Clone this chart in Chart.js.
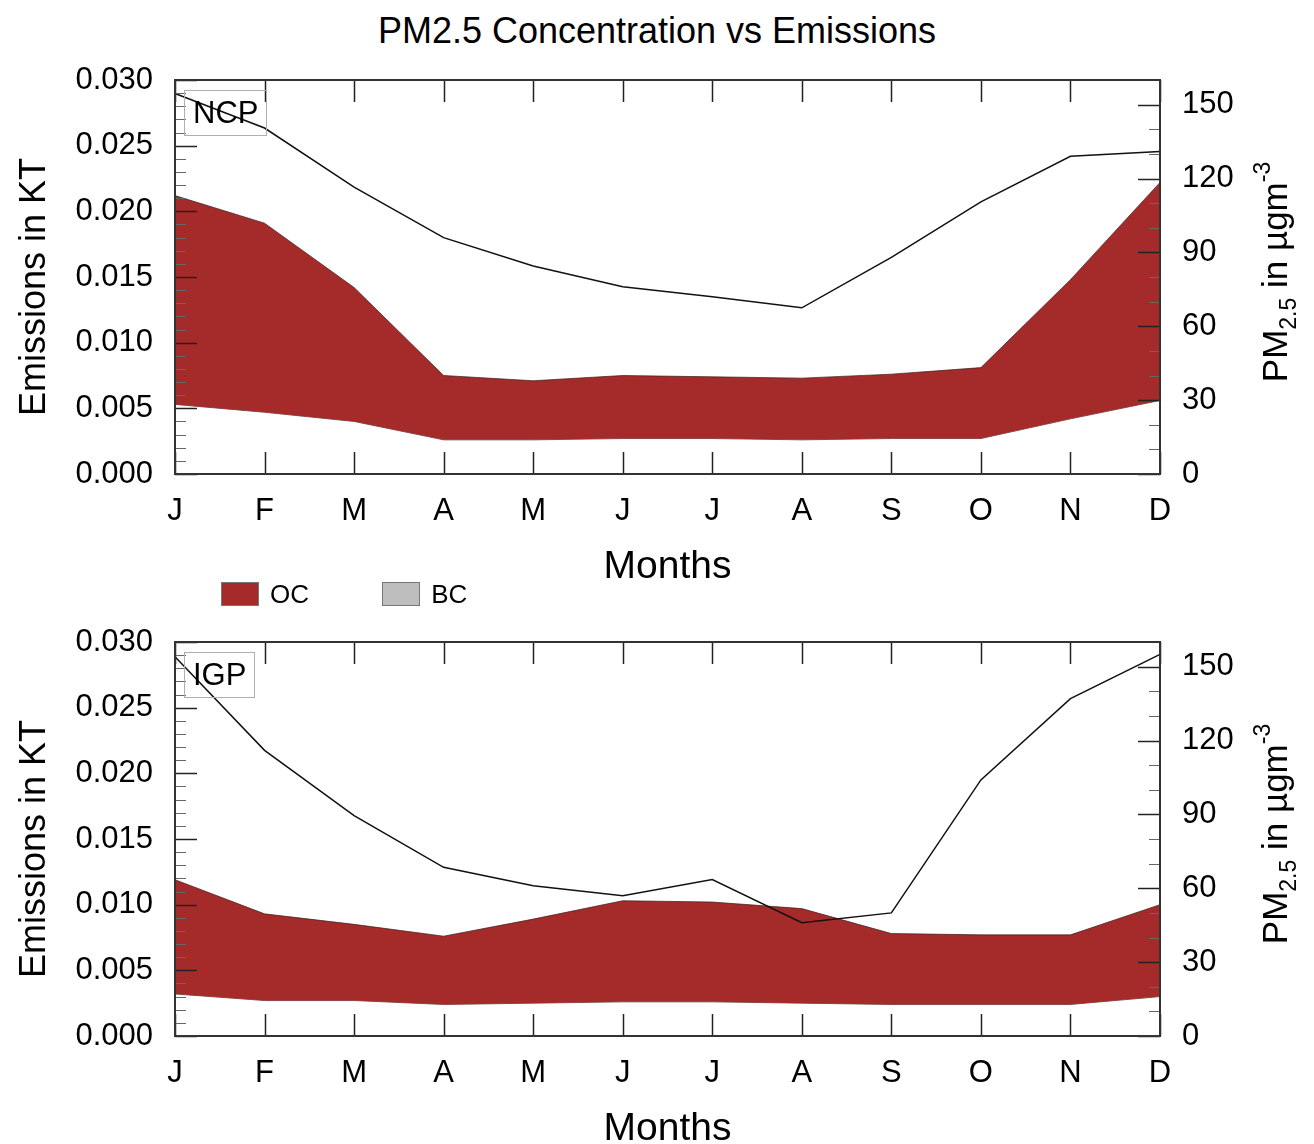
<!DOCTYPE html>
<html>
<head>
<meta charset="utf-8">
<script src="https://cdn.jsdelivr.net/npm/chart.js@4.4.0/dist/chart.umd.min.js"></script>
<style>
  html, body { margin: 0; padding: 0; background: #fff; overflow: hidden; }
  body { width: 1314px; height: 1144px; position: relative; font-family: "Liberation Sans", Arial, sans-serif; }
  #title { position: absolute; left: 0; top: 10px; width: 1314px; text-align: center; font-size: 36px; color: #000; }
  .wrap { position: absolute; left: 0; width: 1314px; height: 600px; }
  .region { position: absolute; border: 1.5px solid #b0b0b0; font-size: 31px; padding: 0 8px; line-height: 44px; color: #000; }
  #legend { position: absolute; left: 221px; top: 577px; font-size: 26px; z-index: 5; }
  #legend span.box { display: inline-block; width: 38px; height: 24px; vertical-align: middle; border: 1px solid #777; box-sizing: border-box; }
  #legend span.lab { display: inline-block; vertical-align: middle; margin-left: 11px; }
</style>
</head>
<body>
<div id="title">PM2.5 Concentration vs Emissions</div>
<div class="wrap" style="top:0px"><canvas id="ncpChart" width="1314" height="600"></canvas></div>
<div class="wrap" style="top:562px"><canvas id="igpChart" width="1314" height="600"></canvas></div>
<div class="region" style="left:184px; top:90px;">NCP</div>
<div class="region" style="left:184px; top:652px;">IGP</div>
<div id="legend">
  <span class="box" style="background:#a52a2a"></span><span class="lab">OC</span>
  <span class="box" style="background:#bebebe; margin-left:66px"></span><span class="lab">BC</span>
</div>
<script>
const months = ['J', 'F', 'M', 'A', 'M', 'J', 'J', 'A', 'S', 'O', 'N', 'D'];

// NCP (top panel)
const ocNCP = [0.0212, 0.0191, 0.0142, 0.0075, 0.0071, 0.0075, 0.0074, 0.0073, 0.0076, 0.0081, 0.0148, 0.0222];
const bcNCP = [0.0053, 0.0047, 0.0040, 0.0026, 0.0026, 0.0027, 0.0027, 0.0026, 0.0027, 0.0027, 0.0042, 0.0056];
const pmNCP = [154.5, 140.5, 116.5, 96, 84.5, 76, 72, 67.5, 88, 110.5, 129, 131];

// IGP (bottom panel)
const ocIGP = [0.0119, 0.0093, 0.0085, 0.0076, 0.0089, 0.0103, 0.0102, 0.0097, 0.0078, 0.0077, 0.0077, 0.0100];
const bcIGP = [0.0032, 0.0027, 0.0027, 0.0024, 0.0025, 0.0026, 0.0026, 0.0025, 0.0024, 0.0024, 0.0024, 0.0030];
const pmIGP = [154, 116, 89.5, 68.5, 61, 57, 63.5, 46, 50, 104, 137, 155];

const emisTicks = { min: 0, max: 0.03, major: 0.005, minor: 0.001 };
const pmTicks = { min: 0, max: 160, major: 30, minor: 10 };

const FONT = "'Liberation Sans', Arial, sans-serif";

// inward ticks, box and axis titles
const framePlugin = {
    id: 'frame',
    afterDatasetsDraw(chart) {
        const ctx = chart.ctx;
        const a = chart.chartArea;
        const xs = chart.scales.x, ys = chart.scales.y, ys2 = chart.scales.y2;
        ctx.save();
        ctx.strokeStyle = '#222';
        ctx.lineWidth = 1.5;
        // month ticks on top and bottom
        months.forEach((m, i) => {
            const px = Math.round(xs.getPixelForValue(i)) + 0.5;
            ctx.beginPath();
            ctx.moveTo(px, a.bottom); ctx.lineTo(px, a.bottom - 22);
            ctx.moveTo(px, a.top); ctx.lineTo(px, a.top + 22);
            ctx.stroke();
        });
        // left axis ticks
        for (let k = 0; k <= 30; k++) {
            const v = k * emisTicks.minor;
            const py = Math.round(ys.getPixelForValue(v)) + 0.5;
            const major = k % 5 === 0;
            ctx.lineWidth = major ? 1.5 : 1;
            ctx.strokeStyle = major ? '#222' : '#666';
            ctx.beginPath();
            ctx.moveTo(a.left, py); ctx.lineTo(a.left + (major ? 22 : 11), py);
            ctx.stroke();
        }
        // right axis ticks
        for (let v = pmTicks.min; v <= pmTicks.max; v += pmTicks.minor) {
            const py = Math.round(ys2.getPixelForValue(v)) + 0.5;
            const major = v % pmTicks.major === 0;
            ctx.lineWidth = major ? 1.5 : 1;
            ctx.strokeStyle = major ? '#222' : '#666';
            ctx.beginPath();
            ctx.moveTo(a.right, py); ctx.lineTo(a.right - (major ? 22 : 11), py);
            ctx.stroke();
        }
        // frame
        ctx.lineWidth = 2;
        ctx.strokeStyle = '#333';
        ctx.strokeRect(a.left, a.top, a.right - a.left, a.bottom - a.top);
        ctx.restore();
    },
    afterDraw(chart) {
        const ctx = chart.ctx;
        const a = chart.chartArea;
        const midY = (a.top + a.bottom) / 2;
        ctx.save();
        ctx.fillStyle = '#000';
        ctx.textBaseline = 'alphabetic';

        // left title
        ctx.save();
        ctx.translate(45, midY + 10);
        ctx.rotate(-Math.PI / 2);
        ctx.font = '36px ' + FONT;
        ctx.textAlign = 'center';
        ctx.fillText('Emissions in KT', 0, 0);
        ctx.restore();

        // right title with sub/superscript
        const parts = [
            { t: 'PM', size: 35, dy: 0 },
            { t: '2.5', size: 23, dy: 9 },
            { t: ' in \u00b5gm', size: 35, dy: 0 },
            { t: '-3', size: 23, dy: -17 }
        ];
        let total = 0;
        parts.forEach(p => { ctx.font = p.size + 'px ' + FONT; p.w = ctx.measureText(p.t).width; total += p.w; });
        ctx.translate(1287, midY - 5);
        ctx.rotate(-Math.PI / 2);
        let x = -total / 2;
        parts.forEach(p => {
            ctx.font = p.size + 'px ' + FONT;
            ctx.fillText(p.t, x, p.dy);
            x += p.w;
        });
        ctx.restore();
    }
};

function makeChart(id, oc, bc, pm) {
    const ctx = document.getElementById(id).getContext('2d');
    return new Chart(ctx, {
        type: 'line',
        data: {
            labels: months,
            datasets: [{
                label: 'BC',
                data: bc,
                yAxisID: 'y',
                order: 2,
                borderColor: 'rgba(60,30,30,0.7)',
                borderWidth: 1,
                pointRadius: 0,
                fill: false,
                tension: 0
            }, {
                label: 'OC',
                data: oc,
                yAxisID: 'y',
                order: 1,
                borderColor: 'rgba(60,30,30,0.7)',
                borderWidth: 1,
                backgroundColor: '#a52a2a',
                pointRadius: 0,
                fill: '-1',
                tension: 0
            }, {
                label: 'PM2.5',
                data: pm,
                yAxisID: 'y2',
                order: 0,
                borderColor: '#111',
                borderWidth: 1.5,
                pointRadius: 0,
                fill: false,
                tension: 0
            }]
        },
        options: {
            responsive: false,
            maintainAspectRatio: false,
            animation: false,
            layout: { padding: { top: 80, bottom: 11, left: 0, right: 0 } },
            plugins: {
                legend: { display: false },
                tooltip: { enabled: false }
            },
            scales: {
                x: {
                    type: 'category',
                    offset: false,
                    grid: { display: false, drawTicks: false },
                    border: { display: false },
                    ticks: { color: '#000', font: { family: FONT, size: 31 }, padding: 19, maxRotation: 0, autoSkip: false },
                    title: { display: true, text: 'Months', color: '#000', font: { family: FONT, size: 39 }, padding: { top: 0, bottom: -2 } },
                    afterFit(s) { s.height = 115; }
                },
                y: {
                    position: 'left',
                    min: emisTicks.min,
                    max: emisTicks.max,
                    grid: { display: false, drawTicks: false },
                    border: { display: false },
                    ticks: {
                        stepSize: emisTicks.major,
                        color: '#000',
                        font: { family: FONT, size: 31 },
                        padding: 22,
                        callback: v => v.toFixed(3)
                    },
                    afterFit(s) { s.width = 175; }
                },
                y2: {
                    position: 'right',
                    min: pmTicks.min,
                    max: pmTicks.max,
                    grid: { display: false, drawTicks: false },
                    border: { display: false },
                    ticks: {
                        stepSize: pmTicks.major,
                        includeBounds: false,
                        color: '#000',
                        font: { family: FONT, size: 31 },
                        padding: 22,
                        callback: v => (v % pmTicks.major === 0 ? v : '')
                    },
                    afterFit(s) { s.width = 154; }
                }
            }
        },
        plugins: [framePlugin]
    });
}

window.addEventListener('load', function() {
    makeChart('ncpChart', ocNCP, bcNCP, pmNCP);
    makeChart('igpChart', ocIGP, bcIGP, pmIGP);
});
</script>
</body>
</html>
